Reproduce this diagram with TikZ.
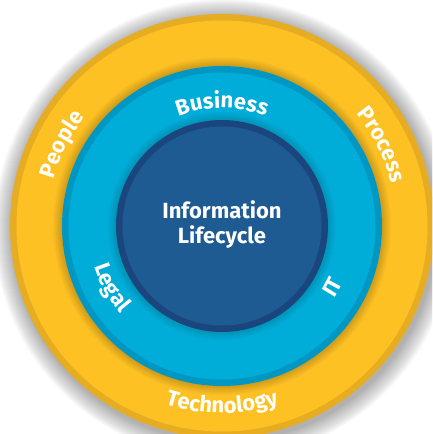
\documentclass[tikz,border=0pt]{standalone}
\usepackage{fontspec}
\setmainfont{Fira Sans}
\usetikzlibrary{decorations.text}
\definecolor{ringgold}{HTML}{FDC124}
\definecolor{ringgoldrim}{HTML}{E6AD22}
\definecolor{ringcyan}{HTML}{00ACD8}
\definecolor{ringcyanrim}{HTML}{0097C3}
\definecolor{coreblue}{HTML}{1F5B93}
\definecolor{corebluerim}{HTML}{1A467D}
\newcommand{\ringfont}{\fontsize{22}{22}\selectfont\bfseries}
\tikzset{
  ringtext/.style={decorate, decoration={text along path, text align=center,
      text color=white, text={|\ringfont|#1}}}
}
\begin{document}
\begin{tikzpicture}[x=1pt,y=1pt]
\useasboundingbox (0,0) rectangle (432,434);
\clip (0,0) rectangle (432,434);
\coordinate (c) at (222,208);
%% Radii of the three discs
\def\ro{212}
\def\rm{160}
\def\ri{106}
\def\rim{6.5}
%% Soft shadow round the outer disc
\foreach \k in {1,...,18}
	{\fill[black,opacity=0.018] ([shift={(2,-3)}]c) circle (\ro+\k);}
%% Outer ring
\fill[ringgoldrim] (c) circle (\ro);
\fill[ringgold] (c) circle (\ro-\rim);
%% Shadow of the middle disc on the outer ring
\foreach \k in {1,...,9}
	{\fill[black,opacity=0.018] (c) circle (\rm+\k);}
\fill[ringcyanrim] (c) circle (\rm);
\fill[ringcyan] (c) circle (\rm-\rim);
%% Shadow of the core on the middle ring
\foreach \k in {1,...,8}
	{\fill[black,opacity=0.016] (c) circle (\ri+\k);}
\fill[corebluerim] (c) circle (\ri);
\fill[coreblue] (c) circle (\ri-\rim);
%% Core label
\node[text=white, align=center, font=\fontsize{22}{25}\selectfont\bfseries]
	(info) at ([yshift=1]c) {Information\\Lifecycle};
%% Texts on the top arcs (read clockwise)
\def\r{175}
\path[ringtext=People] ([shift={(213:\r)}]c) arc[start angle=213, end angle=93, radius=\r];
\path[ringtext=Process] ([shift={(87:\r)}]c) arc[start angle=87, end angle=-33, radius=\r];
\def\r{118}
\path[ringtext=Business] ([shift={(150:\r)}]c) arc[start angle=150, end angle=30, radius=\r];
%% Texts on the bottom arcs (read counter clockwise)
\def\r{187}
\path[ringtext=Technology] ([shift={(210:\r)}]c) arc[start angle=210, end angle=330, radius=\r];
\def\r{134}
\path[ringtext=Legal] ([shift={(159:\r)}]c) arc[start angle=159, end angle=259, radius=\r];
\path[ringtext=IT] ([shift={(281:\r)}]c) arc[start angle=281, end angle=381, radius=\r];
\end{tikzpicture}
\end{document}
